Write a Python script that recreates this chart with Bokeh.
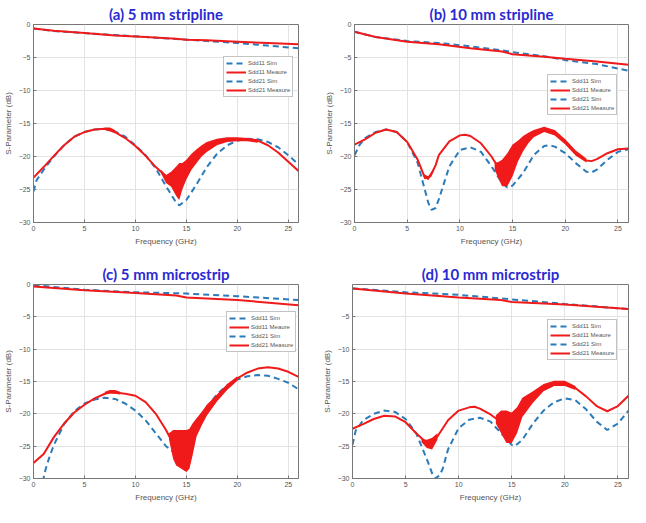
from bokeh.plotting import figure
from bokeh.layouts import column, row
from bokeh.models import Legend, LegendItem, FixedTicker, Range1d
from bokeh.embed import file_html
from bokeh.resources import INLINE

# ---------------- data ----------------
titles = ["(a) 5 mm stripline", "(b) 10 mm stripline", "(c) 5 mm microstrip", "(d) 10 mm microstrip"]
legend_labels = ["Sdd11 Sim", "Sdd11 Meaure", "Sdd21 Sim", "Sdd21 Measure"]
x_ticks = [0, 5, 10, 15, 20, 25]
y_ticks = [-30, -25, -20, -15, -10, -5, 0]
y_ticks_d = [-30, -25, -20, -15, -10, -5]

# (a) 5 mm stripline
a_s21_sim_f = [0, 2, 5, 8, 11, 14, 17, 20, 23, 26]
a_s21_sim = [-0.6, -1.0, -1.3, -1.6, -1.9, -2.2, -2.5, -2.8, -3.2, -3.6]
a_s21_meas_f = [0, 2, 5, 8, 11, 14, 15, 17, 20, 23, 26]
a_s21_meas = [-0.6, -0.95, -1.3, -1.65, -1.9, -2.15, -2.3, -2.4, -2.6, -2.8, -3.0]
a_s11_sim_f = [0, 0.3, 1, 2, 3, 4, 5, 6, 7, 8, 9, 10, 11, 12, 13, 14, 14.3, 15, 16, 17, 18, 19, 20, 21, 22, 23, 24, 25, 26]
a_s11_sim = [-25.3, -23.6, -22.0, -20.0, -18.3, -17.0, -16.3, -15.9, -15.8, -16.2, -17.0, -18.3, -19.8, -21.8, -24.5,
             -27.0, -27.4, -26.6, -24.2, -21.6, -19.6, -18.3, -17.6, -17.3, -17.4, -17.8, -18.6, -19.8, -21.2]
a_s11_meas_f = [0, 1, 2, 3, 4, 5, 6, 7, 8, 9, 10, 11, 12, 13, 14, 15, 16, 17, 18, 19, 20, 21, 22, 23, 24, 25, 26]
a_s11_meas = [-23.2, -21.6, -19.9, -18.3, -17.0, -16.3, -15.9, -15.8, -16.3, -17.2, -18.4, -19.9, -21.6, -23.0, -23.8,
              -22.3, -20.4, -18.8, -17.9, -17.5, -17.4, -17.4, -17.6, -18.3, -19.4, -20.8, -22.2]
a_noise = [
    ([7, 7.5, 8], [-16.0, -16.1, -16.5], [-15.6, -15.6, -16.0]),
    ([12.5, 13, 13.5, 14, 14.3, 14.6, 15, 15.5, 16, 16.5, 17, 18, 19, 20, 21, 22],
     [-22.5, -24.0, -24.6, -26.0, -26.6, -25.0, -23.5, -22.0, -21.0, -20.0, -19.3, -18.3, -17.8, -17.7, -17.7, -17.9],
     [-22.0, -22.8, -22.3, -21.5, -21.0, -21.0, -20.5, -19.6, -18.9, -18.3, -17.8, -17.3, -17.1, -17.1, -17.2, -17.4]),
]

# (b) 10 mm stripline
b_s21_sim_f = [0, 2, 5, 8, 11, 14, 15, 18, 20, 23, 26]
b_s21_sim = [-1.1, -1.9, -2.5, -2.8, -3.3, -3.9, -4.2, -4.8, -5.4, -6.0, -7.0]
b_s21_meas_f = [0, 2, 5, 8, 11, 14, 15, 18, 20, 23, 26]
b_s21_meas = [-1.1, -1.9, -2.6, -3.0, -3.6, -4.1, -4.5, -4.9, -5.2, -5.6, -6.1]
b_s11_sim_f = [0, 0.5, 1, 2, 3, 4, 5, 6, 6.5, 7, 7.3, 7.7, 8, 8.5, 9, 10, 11, 12, 13, 14, 14.5, 15, 16, 17, 18, 18.5,
               19, 20, 21, 22, 22.5, 23, 24, 25, 26]
b_s11_sim = [-19.8, -18.2, -17.2, -16.3, -15.9, -16.3, -17.8, -21.0, -24.0, -27.0, -28.1, -27.8, -26.5, -24.0, -21.5,
             -19.0, -18.6, -19.3, -21.5, -24.0, -24.7, -24.4, -22.5, -19.8, -18.4, -18.3, -18.5, -19.5, -21.0, -22.3,
             -22.4, -22.0, -20.5, -19.3, -18.9]
b_s11_meas_f = [0, 1, 2, 3, 4, 5, 6, 6.7, 7.2, 7.7, 8, 9, 10, 10.5, 11, 12, 13, 13.5, 14, 15, 16, 17, 18, 19, 20, 21,
                22, 22.5, 23, 24, 25, 26]
b_s11_meas = [-18.2, -17.4, -16.4, -15.9, -16.3, -17.8, -20.5, -23.3, -23.0, -21.3, -19.8, -17.7, -16.8, -16.7, -16.9,
              -18.0, -20.0, -21.3, -22.2, -20.8, -18.4, -16.5, -15.8, -16.4, -17.8, -19.5, -20.6, -20.7, -20.4, -19.5,
              -18.9, -18.8]
b_noise = [
    ([6.5, 7, 7.5], [-23.0, -23.6, -22.3], [-22.6, -23.0, -21.8]),
    ([13.3, 13.7, 14, 14.5, 15, 15.5, 16, 16.5, 17, 18, 19, 20, 21, 22],
     [-22.0, -23.5, -24.5, -24.5, -23.0, -20.8, -19.2, -18.0, -17.1, -16.3, -16.8, -18.2, -19.9, -20.9],
     [-21.0, -20.8, -20.5, -19.5, -18.2, -17.6, -16.9, -16.4, -16.0, -15.5, -16.0, -17.4, -19.1, -20.3]),
]

# (c) 5 mm microstrip
c_s21_sim_f = [0, 5, 10, 15, 20, 26]
c_s21_sim = [-0.1, -0.8, -1.2, -1.4, -1.8, -2.4]
c_s21_meas_f = [0, 5, 10, 14, 15, 20, 26]
c_s21_meas = [-0.3, -0.9, -1.3, -1.7, -2.0, -2.4, -3.2]
c_s11_sim_f = [0.9, 1.2, 1.6, 2, 3, 4, 5, 6, 7, 8, 9, 10, 11, 12, 13, 13.8, 14.5, 15, 16, 17, 18, 19, 20, 21, 22, 23,
               24, 25, 26]
c_s11_sim = [-30.5, -28.5, -26.5, -24.8, -21.6, -19.6, -18.4, -17.8, -17.5, -17.7, -18.4, -19.5, -21.0, -23.0, -25.0,
             -26.0, -25.5, -23.5, -21.0, -19.0, -17.0, -15.6, -14.7, -14.2, -14.0, -14.1, -14.6, -15.2, -16.2]
c_s11_meas_f = [0, 1, 2, 3, 4, 5, 6, 7, 7.5, 8, 9, 10, 11, 12, 13, 13.5, 14, 15, 15.5, 16, 17, 18, 19, 20, 21, 22, 23,
                24, 25, 26]
c_s11_meas = [-27.6, -26.2, -23.6, -21.5, -19.8, -18.6, -17.6, -16.9, -16.6, -16.7, -16.9, -17.2, -18.2, -20.0, -22.5,
              -24.0, -25.3, -25.0, -23.0, -21.5, -19.4, -17.4, -15.8, -14.5, -13.6, -13.0, -12.8, -13.0, -13.5, -14.3]
c_noise = [
    ([7, 7.5, 8, 8.5], [-17.0, -16.9, -16.9, -17.0], [-16.6, -16.3, -16.3, -16.6]),
    ([13.3, 13.7, 14, 14.5, 15, 15.3, 15.6, 16, 16.5, 17, 18, 19, 20],
     [-24.0, -27.0, -28.0, -28.5, -29.0, -28.5, -26.5, -23.5, -21.8, -20.3, -18.1, -16.3, -14.9],
     [-23.0, -22.5, -22.5, -22.5, -22.5, -22.3, -21.5, -20.7, -19.7, -18.6, -17.0, -15.4, -14.2]),
]

# (d) 10 mm microstrip
d_s21_sim_f = [0, 5, 10, 15, 20, 26]
d_s21_sim = [-0.6, -1.2, -1.6, -2.3, -3.0, -3.8]
d_s21_meas_f = [0, 5, 10, 14, 15, 20, 26]
d_s21_meas = [-0.6, -1.4, -2.0, -2.4, -2.7, -3.1, -3.8]
d_s11_sim_f = [0, 0.3, 1, 2, 3, 4, 5, 6, 7, 7.5, 7.8, 8.2, 8.5, 9, 10, 11, 12, 13, 14, 15, 15.3, 16, 17, 18, 19, 20,
               21, 22, 23, 24, 25, 26]
d_s11_sim = [-24.8, -22.6, -21.0, -20.0, -19.5, -19.7, -20.8, -23.0, -27.0, -29.2, -30.0, -29.5, -28.5, -25.5, -22.2,
             -20.9, -20.6, -21.2, -23.0, -24.8, -25.0, -24.0, -21.5, -19.5, -18.2, -17.6, -17.9, -19.3, -21.2, -22.5,
             -21.5, -19.5]
d_s11_meas_f = [0, 1, 2, 3, 4, 5, 6, 7, 7.5, 8, 9, 10, 11, 11.5, 12, 13, 14, 15, 16, 17, 18, 19, 19.5, 20, 21, 22, 23,
                24, 25, 26]
d_s11_meas = [-22.3, -21.6, -20.8, -20.3, -20.4, -21.3, -23.0, -24.5, -24.6, -23.5, -21.0, -19.5, -19.0, -18.9, -19.2,
              -20.1, -21.3, -21.8, -19.2, -17.3, -15.9, -15.3, -15.2, -15.3, -16.0, -17.3, -18.8, -19.6, -18.8, -17.2]
d_noise = [
    ([6.5, 7, 7.5, 8], [-24.4, -25.3, -25.5, -24.0], [-23.9, -24.0, -23.7, -23.0]),
    ([13.5, 14, 14.5, 15, 15.5, 16, 17, 18, 19, 20, 21],
     [-21.5, -23.0, -24.5, -24.5, -23.0, -20.5, -18.3, -16.5, -15.7, -15.7, -16.3],
     [-20.2, -19.5, -19.5, -19.8, -19.0, -17.5, -16.5, -15.4, -14.9, -14.9, -15.7]),
]

# ---------------- styles ----------------
BLUE = "#2b7bba"
RED = "#f01a1a"
TITLE_BLUE = "#2a2ad2"
AX_FONT = "Liberation Sans"


def make_panel(title, s11_sim, s11_meas, s21_sim, s21_meas, noise, yt,
               borders, legend_top, legend_right, w=315, h=252):
    bl, br, bt, bb = borders
    p = figure(width=w, height=h, output_backend="svg", toolbar_location=None,
               x_range=Range1d(0, 26), y_range=Range1d(-30, 0),
               min_border_left=bl, min_border_right=br, min_border_top=bt, min_border_bottom=bb)
    p.title.text = title
    p.title.align = "center"
    p.title.text_font = "Lato"
    p.title.text_font_style = "bold"
    p.title.text_font_size = "15px"
    p.title.text_color = TITLE_BLUE
    p.title.offset = 0
    p.title.standoff = 4

    p.outline_line_color = "#777777"
    p.outline_line_width = 1
    p.background_fill_color = "white"
    p.border_fill_color = "white"

    for ax in (p.xaxis[0], p.yaxis[0]):
        ax.axis_line_color = "#777777"
        ax.major_tick_line_color = "#777777"
        ax.major_tick_in = 3
        ax.major_tick_out = 0
        ax.minor_tick_line_color = None
        ax.major_label_text_font = AX_FONT
        ax.major_label_text_font_size = "7px"
        ax.major_label_text_color = "#555555"
        ax.axis_label_text_font = AX_FONT
        ax.axis_label_text_font_size = "8px"
        ax.axis_label_text_font_style = "normal"
        ax.axis_label_text_color = "#555555"
        ax.major_label_standoff = 3
        ax.axis_label_standoff = 3
    p.xaxis.axis_label = "Frequency (GHz)"
    p.yaxis.axis_label = "S-Parameter (dB)"
    p.xaxis.ticker = FixedTicker(ticks=x_ticks)
    p.yaxis.ticker = FixedTicker(ticks=yt)
    p.xgrid.ticker = FixedTicker(ticks=x_ticks)
    p.ygrid.ticker = FixedTicker(ticks=y_ticks)
    p.grid.grid_line_color = "#e3e3e3"
    p.grid.grid_line_width = 1

    r1 = p.line(s11_sim[0], s11_sim[1], line_color=BLUE, line_width=2, line_dash="6 4")
    for nf, lo, hi in noise:
        p.varea(x=nf, y1=lo, y2=hi, fill_color=RED, fill_alpha=1.0)
    r2 = p.line(s11_meas[0], s11_meas[1], line_color=RED, line_width=2)
    r3 = p.line(s21_sim[0], s21_sim[1], line_color=BLUE, line_width=2, line_dash="6 4")
    r4 = p.line(s21_meas[0], s21_meas[1], line_color=RED, line_width=2)

    items = [LegendItem(label=lab, renderers=[r]) for lab, r in zip(legend_labels, [r1, r2, r3, r4])]
    lw, lh = 80, 38
    fw = w - bl - br
    fh = h - bt - bb
    leg = Legend(items=items, location=(fw - lw - legend_right, fh - legend_top - lh),
                 label_text_font=AX_FONT, label_text_font_size="6px", label_text_color="#555555",
                 glyph_width=20, glyph_height=8, label_height=8, label_width=40, label_standoff=2,
                 spacing=1, padding=2, margin=0, border_line_color="#888888",
                 background_fill_color="white", background_fill_alpha=1.0)
    p.add_layout(leg, "center")
    return p


pa = make_panel(titles[0], (a_s11_sim_f, a_s11_sim), (a_s11_meas_f, a_s11_meas),
                (a_s21_sim_f, a_s21_sim), (a_s21_meas_f, a_s21_meas), a_noise, y_ticks,
                (26, 17, 24, 27), 38, 2)
pb = make_panel(titles[1], (b_s11_sim_f, b_s11_sim), (b_s11_meas_f, b_s11_meas),
                (b_s21_sim_f, b_s21_sim), (b_s21_meas_f, b_s21_meas), b_noise, y_ticks,
                (39, 2, 24, 30), 53, 1)
pc = make_panel(titles[2], (c_s11_sim_f, c_s11_sim), (c_s11_meas_f, c_s11_meas),
                (c_s21_sim_f, c_s21_sim), (c_s21_meas_f, c_s21_meas), c_noise, y_ticks,
                (24, 17, 31, 22), 35, 1)
pd_ = make_panel(titles[3], (d_s11_sim_f, d_s11_sim), (d_s11_meas_f, d_s11_meas),
                 (d_s21_sim_f, d_s21_sim), (d_s21_meas_f, d_s21_meas), d_noise, y_ticks_d,
                 (37, 2, 32, 24), 40, 1)

layout = column(row(pa, pb), row(pc, pd_))
open("out.html", "w").write(file_html(layout, INLINE))
